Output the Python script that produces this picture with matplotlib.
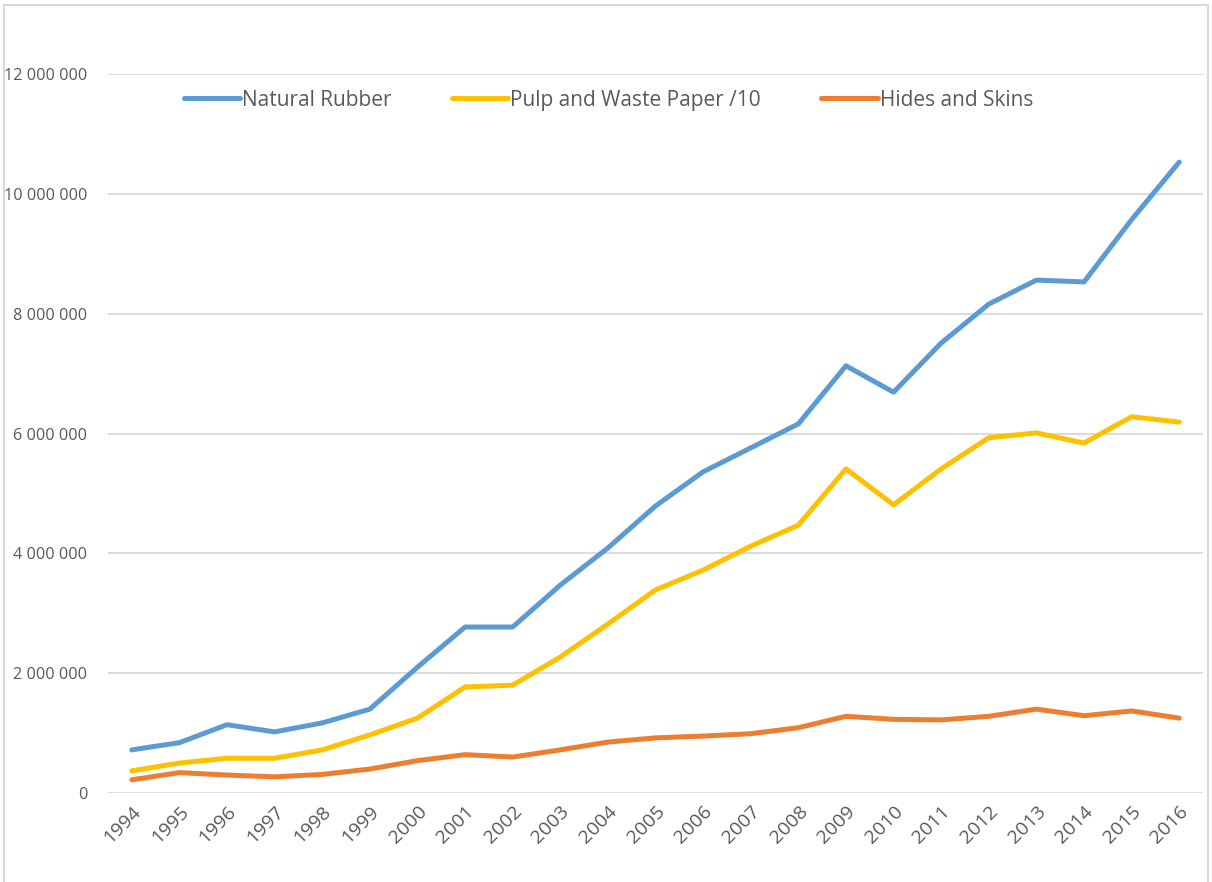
import matplotlib
matplotlib.use("Agg")
import matplotlib.pyplot as plt
import matplotlib.ticker as mticker
from matplotlib.patches import Rectangle

plt.rcParams['font.family'] = ['Open Sans', 'DejaVu Sans']

years = [str(y) for y in range(1994, 2017)]

natural_rubber = [0.72e6, 0.84e6, 1.14e6, 1.02e6, 1.17e6, 1.40e6, 2.10e6, 2.77e6,
                  2.77e6, 3.47e6, 4.09e6, 4.79e6, 5.36e6, 5.76e6, 6.16e6, 7.13e6,
                  6.69e6, 7.51e6, 8.16e6, 8.56e6, 8.53e6, 9.57e6, 10.53e6]
pulp_paper_10 = [0.37e6, 0.50e6, 0.58e6, 0.58e6, 0.72e6, 0.97e6, 1.25e6, 1.77e6,
                 1.80e6, 2.27e6, 2.82e6, 3.39e6, 3.72e6, 4.12e6, 4.47e6, 5.41e6,
                 4.81e6, 5.41e6, 5.93e6, 6.01e6, 5.84e6, 6.28e6, 6.19e6]
hides_skins = [0.22e6, 0.34e6, 0.30e6, 0.27e6, 0.31e6, 0.40e6, 0.54e6, 0.64e6,
               0.60e6, 0.72e6, 0.85e6, 0.92e6, 0.95e6, 0.99e6, 1.09e6, 1.28e6,
               1.23e6, 1.22e6, 1.28e6, 1.40e6, 1.29e6, 1.37e6, 1.25e6]

series = [
    ("Natural Rubber", natural_rubber, "#5B9BD5"),
    ("Pulp and Waste Paper /10", pulp_paper_10, "#FFC000"),
    ("Hides and Skins", hides_skins, "#ED7D31"),
]

fig = plt.figure(figsize=(12.12, 8.82), dpi=100)
ax = fig.add_axes([0.0891, 0.1009, 0.9035, 0.8152])

x = list(range(len(years)))
for name, vals, color in series:
    ax.plot(x, vals, color=color, linewidth=3.6, solid_capstyle='round',
            solid_joinstyle='round', label=name, zorder=3)

ax.set_xlim(-0.5, len(years) - 0.5)
ax.set_ylim(0, 12e6)
ax.set_xticks(x)
ax.set_xticklabels(years, rotation=45, ha='right', rotation_mode='anchor')
ax.yaxis.set_major_locator(mticker.MultipleLocator(2e6))
ax.yaxis.set_major_formatter(mticker.FuncFormatter(
    lambda v, p: f"{int(v):,}".replace(",", " ")))

ax.grid(axis='y', color='#d9d9d9', linewidth=1.3)
ax.set_axisbelow(True)
for s in ax.spines.values():
    s.set_visible(False)
ax.tick_params(axis='both', length=0, colors='#595959')
ax.tick_params(axis='y', labelsize=11.7, pad=15)
ax.tick_params(axis='x', labelsize=14, pad=7)

leg = fig.legend(loc='center', bbox_to_anchor=(0.502, 0.8866), ncol=3,
                 frameon=False, fontsize=15, handlelength=2.7,
                 handletextpad=0.1, columnspacing=2.9)
for t in leg.get_texts():
    t.set_color('#595959')

# chart border (open at the bottom, as cropped in the reference)
fig.add_artist(Rectangle((0.003, -0.1), 0.994, 1.094, transform=fig.transFigure,
                         fill=False, edgecolor='#d9d9d9', linewidth=1.5))

fig.savefig("out.png", dpi=100)
